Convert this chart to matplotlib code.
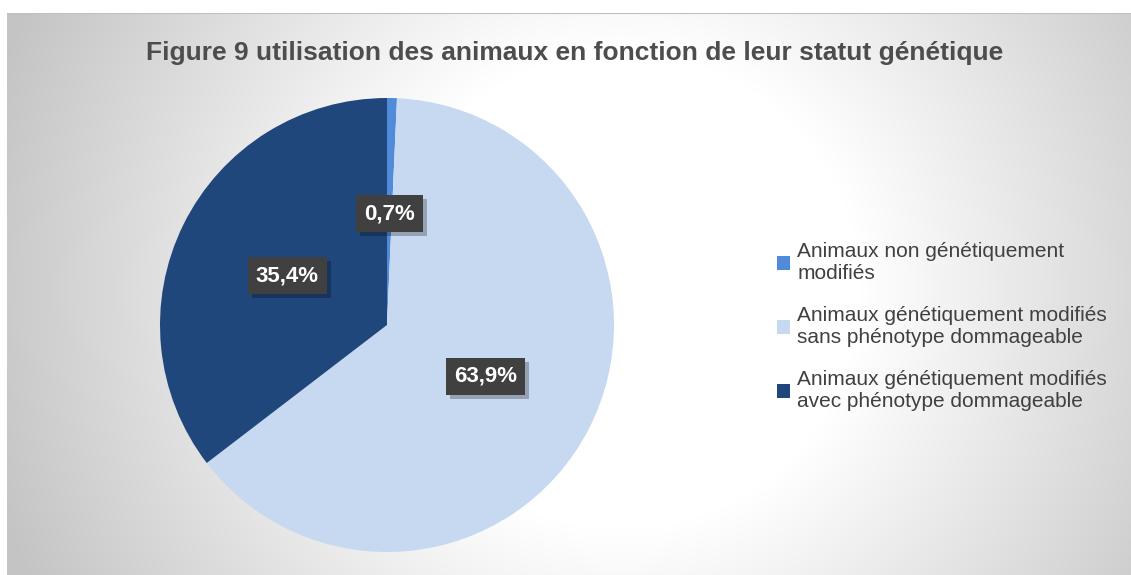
import numpy as np
import matplotlib
matplotlib.use("Agg")
import matplotlib.pyplot as plt
from matplotlib import patheffects as pe

plt.rcParams['font.family'] = ['Liberation Sans', 'DejaVu Sans']

title = "Figure 9 utilisation des animaux en fonction de leur statut génétique"
categories = [
    "Animaux non génétiquement\nmodifiés",
    "Animaux génétiquement modifiés\nsans phénotype dommageable",
    "Animaux génétiquement modifiés\navec phénotype dommageable",
]
values = [0.7, 63.9, 35.4]
colors = ["#4F8BD8", "#C6D9F0", "#1F477B"]

W, H = 1131, 575
fig = plt.figure(figsize=(W / 100, H / 100), dpi=100)
fig.patch.set_facecolor("white")

# background with radial gradient
bg = fig.add_axes([7 / W, 0, 1 - 7 / W, (H - 13) / H])
bg.set_axis_off()
xs = np.arange(7, W)
ys = np.arange(13, H)
X, Y = np.meshgrid(xs, ys)
r = np.hypot(X - 620, Y - 290)
t = np.clip((r - 240) / 420, 0, 1)
v = 255 - t * (255 - 196)
img = np.dstack([v, v, v]) / 255.0
bg.imshow(img, aspect="auto", extent=[0, 1, 0, 1], origin="upper", zorder=0)
bg.set_xlim(0, 1)
bg.set_ylim(0, 1)
bg.axhline(1, color="#BFBFBF", lw=1.5)

fig.text(575 / W, 1 - 53 / H, title, ha="center", va="center",
         fontsize=19, fontweight="bold", color="#4D4D4D")

cx, cy, R = 387, 325, 227
ax = fig.add_axes([(cx - R) / W, (H - cy - R) / H, 2 * R / W, 2 * R / H])
wedges, texts = ax.pie(values, colors=colors, startangle=90, counterclock=False,
                       labels=[f"{v:.1f}".replace(".", ",") + "%" for v in values],
                       labeldistance=0.49,
                       wedgeprops=dict(linewidth=0, edgecolor="none"))
ax.set_xlim(-1, 1)
ax.set_ylim(-1, 1)
ax.set_aspect("equal")
for t_ in texts:
    t_.set_ha("center")
    t_.set_va("center")
    t_.set_fontsize(16)
    t_.set_fontweight("bold")
    t_.set_color("white")
    t_.set_bbox(dict(boxstyle="square,pad=0.36", facecolor="#404040",
                     edgecolor="none", linewidth=0))
    t_.set_zorder(5)
    t_.get_bbox_patch().set_path_effects([
        pe.SimplePatchShadow(offset=(3, -3), shadow_rgbFace="#000000", alpha=0.25),
        pe.Normal()])

leg = fig.legend(wedges, categories, loc="upper left",
                 bbox_to_anchor=(767 / W, 1 - 232 / H),
                 frameon=False, fontsize=15, labelcolor="#404040",
                 handlelength=0.6, handleheight=0.6, handletextpad=0.35,
                 labelspacing=1.1, borderpad=0)
for h in leg.legend_handles:
    h.set_edgecolor("none")

fig.savefig("out.png", dpi=100)
